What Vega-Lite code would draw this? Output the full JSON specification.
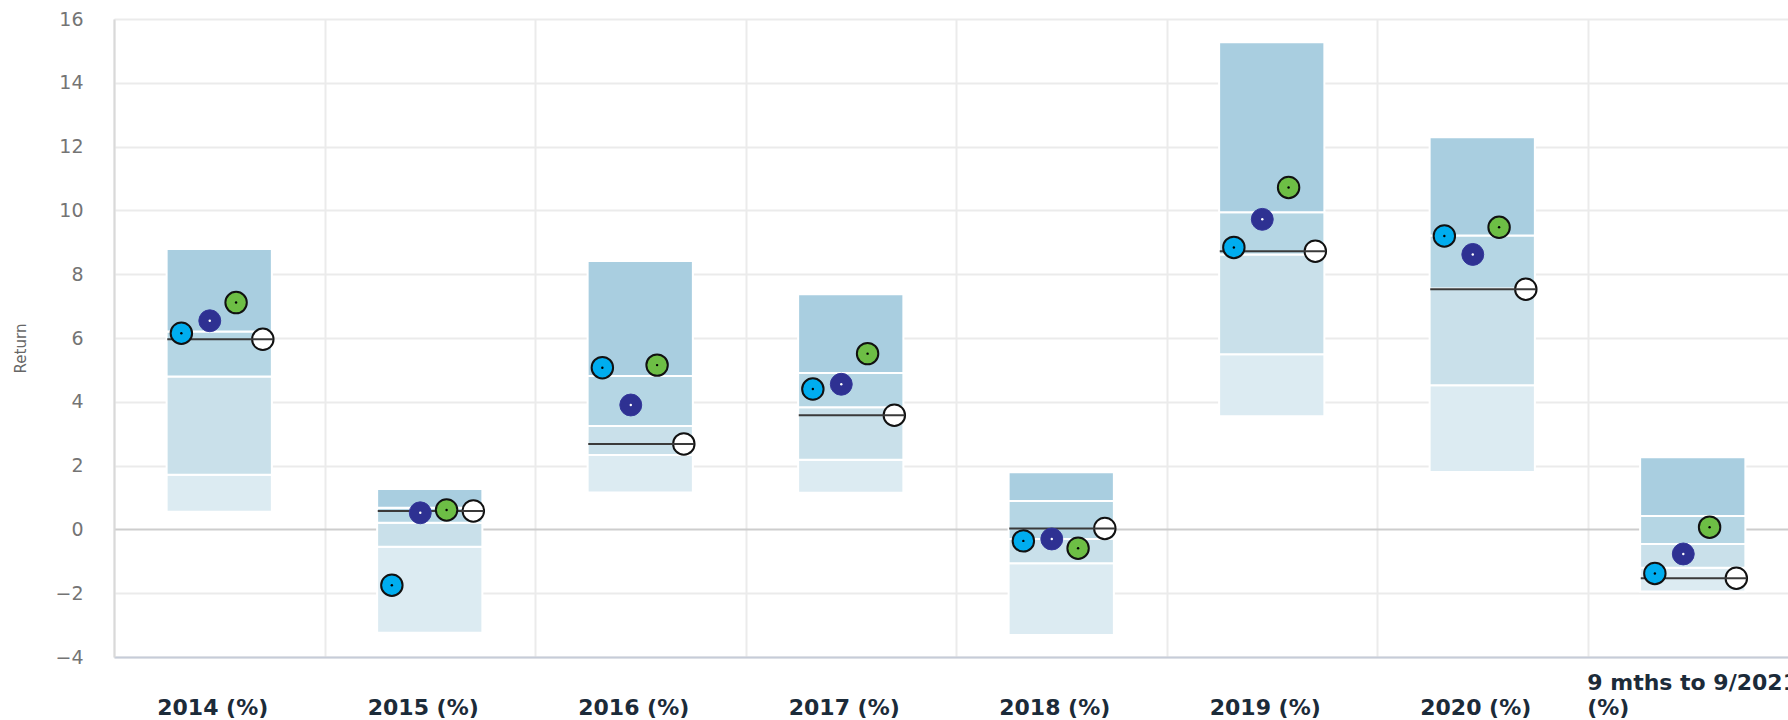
{
  "$schema": "https://vega.github.io/schema/vega-lite/v6.json",
  "width": 1684,
  "height": 638,
  "autosize": {"type": "none"},
  "padding": {"left": 114, "top": 19, "right": 0, "bottom": 63},
  "background": "white",
  "config": {"view": {"stroke": null}, "font": "DejaVu Sans"},
  "data": {
    "values": [
      {"period": "2014 (%)", "p5": 0.55, "p25": 1.71, "p50": 4.79, "p75": 6.2, "p95": 8.79, "bench": 5.96, "fundA": 6.15, "fundB": 6.54, "fundC": 7.11},
      {"period": "2015 (%)", "p5": -3.24, "p25": -0.54, "p50": 0.21, "p75": 0.68, "p95": 1.27, "bench": 0.58, "fundA": -1.75, "fundB": 0.52, "fundC": 0.61},
      {"period": "2016 (%)", "p5": 1.16, "p25": 2.33, "p50": 3.24, "p75": 4.81, "p95": 8.41, "bench": 2.68, "fundA": 5.07, "fundB": 3.9, "fundC": 5.15},
      {"period": "2017 (%)", "p5": 1.15, "p25": 2.18, "p50": 3.83, "p75": 4.9, "p95": 7.37, "bench": 3.58, "fundA": 4.4, "fundB": 4.55, "fundC": 5.51},
      {"period": "2018 (%)", "p5": -3.31, "p25": -1.06, "p50": -0.3, "p75": 0.89, "p95": 1.79, "bench": 0.03, "fundA": -0.36, "fundB": -0.3, "fundC": -0.59},
      {"period": "2019 (%)", "p5": 3.55, "p25": 5.49, "p50": 8.62, "p75": 9.94, "p95": 15.27, "bench": 8.72, "fundA": 8.84, "fundB": 9.72, "fundC": 10.72},
      {"period": "2020 (%)", "p5": 1.8, "p25": 4.52, "p50": 7.55, "p75": 9.21, "p95": 12.29, "bench": 7.53, "fundA": 9.2, "fundB": 8.62, "fundC": 9.47},
      {"period": "9 mths to 9/2021 (%)", "p5": -1.95, "p25": -1.2, "p50": -0.46, "p75": 0.42, "p95": 2.26, "bench": -1.53, "fundA": -1.38, "fundB": -0.77, "fundC": 0.07}
    ]
  },
  "layer": [
    {
      "mark": {"type": "bar", "width": {"band": 0.5}, "color": "#dcebf2", "stroke": "white", "strokeWidth": 2},
      "encoding": {
        "x": {
          "field": "period", "type": "nominal", "sort": null, "title": null,
          "scale": {"paddingInner": 0, "paddingOuter": 0},
          "axis": {
            "title": null,
            "labelAngle": 0,
            "labelFont": "DejaVu Sans",
            "labelFontWeight": "bold",
            "labelFontSize": 22,
            "labelColor": "#1c2b39",
            "labelBaseline": "bottom",
            "labelPadding": {"condition": {"test": "datum.value == '9 mths to 9/2021 (%)'", "value": 37}, "value": 62},
            "labelLineHeight": 25,
            "labelLimit": 0,
            "labelOverlap": false,
            "labelBound": false,
            "labelExpr": "datum.value == '9 mths to 9/2021 (%)' ? ['9 mths to 9/2021', '(%)'] : datum.value",
            "labelAlign": {"condition": {"test": "datum.value == '9 mths to 9/2021 (%)'", "value": "left"}, "value": "center"},
            "labelOffset": {"condition": {"test": "datum.value == '9 mths to 9/2021 (%)'", "value": -106}, "value": -7},
            "ticks": false,
            "tickSize": 0,
            "tickBand": "extent",
            "grid": true,
            "gridColor": "#ebebeb",
            "gridWidth": 2,
            "domainColor": "#c6ccd8",
            "domainWidth": 2
          }
        },
        "y": {
          "field": "p5", "type": "quantitative", "title": "Return",
          "scale": {"domain": [-4, 16], "nice": false, "zero": false},
          "axis": {
            "title": "Return",
            "titleFont": "DejaVu Sans",
            "titleFontSize": 15,
            "titleFontWeight": "normal",
            "titleColor": "#666666",
            "titlePadding": 26,
            "titleY": 329,
            "labelFont": "DejaVu Sans",
            "labelFontSize": 19,
            "labelColor": "#747474",
            "labelPadding": 31,
            "ticks": false,
            "tickSize": 0,
            "values": [-4, -2, 0, 2, 4, 6, 8, 10, 12, 14, 16],
            "grid": true,
            "gridColor": {"condition": {"test": "datum.value === 0", "value": "#cdcdcd"}, "value": "#ebebeb"},
            "gridWidth": 2,
            "domainColor": "#d9d9d9",
            "domainWidth": 2
          }
        },
        "y2": {"field": "p25"}
      }
    },
    {
      "mark": {"type": "bar", "width": {"band": 0.5}, "color": "#c9e0ea", "stroke": "white", "strokeWidth": 2},
      "encoding": {
        "x": {"field": "period", "type": "nominal", "sort": null, "title": null},
        "y": {"field": "p25", "type": "quantitative", "title": "Return"},
        "y2": {"field": "p50"}
      }
    },
    {
      "mark": {"type": "bar", "width": {"band": 0.5}, "color": "#b5d6e4", "stroke": "white", "strokeWidth": 2},
      "encoding": {
        "x": {"field": "period", "type": "nominal", "sort": null, "title": null},
        "y": {"field": "p50", "type": "quantitative", "title": "Return"},
        "y2": {"field": "p75"}
      }
    },
    {
      "mark": {"type": "bar", "width": {"band": 0.5}, "color": "#a9cee0", "stroke": "white", "strokeWidth": 2},
      "encoding": {
        "x": {"field": "period", "type": "nominal", "sort": null, "title": null},
        "y": {"field": "p75", "type": "quantitative", "title": "Return"},
        "y2": {"field": "p95"}
      }
    },
    {
      "mark": {"type": "point", "filled": true, "shape": "circle", "size": 460, "fill": "white", "stroke": "#111111", "strokeWidth": 2, "opacity": 1},
      "encoding": {
        "x": {"field": "period", "type": "nominal", "sort": null, "title": null, "bandPosition": 0.707},
        "y": {"field": "bench", "type": "quantitative", "title": "Return"}
      }
    },
    {
      "mark": {"type": "tick", "orient": "horizontal", "size": 106, "thickness": 2, "xOffset": 1, "color": "#3a3a3a", "opacity": 1},
      "encoding": {
        "x": {"field": "period", "type": "nominal", "sort": null, "title": null},
        "y": {"field": "bench", "type": "quantitative", "title": "Return"}
      }
    },
    {
      "mark": {"type": "point", "filled": true, "shape": "circle", "size": 460, "fill": "#00adef", "stroke": "#111111", "strokeWidth": 2, "opacity": 1},
      "encoding": {
        "x": {"field": "period", "type": "nominal", "sort": null, "title": null, "bandPosition": 0.32},
        "y": {"field": "fundA", "type": "quantitative", "title": "Return"}
      }
    },
    {
      "mark": {"type": "point", "filled": true, "shape": "circle", "size": 480, "fill": "#2e3192", "stroke": "#34379a", "strokeWidth": 1, "opacity": 1},
      "encoding": {
        "x": {"field": "period", "type": "nominal", "sort": null, "title": null, "bandPosition": 0.455},
        "y": {"field": "fundB", "type": "quantitative", "title": "Return"}
      }
    },
    {
      "mark": {"type": "point", "filled": true, "shape": "circle", "size": 460, "fill": "#6dbe45", "stroke": "#111111", "strokeWidth": 2, "opacity": 1},
      "encoding": {
        "x": {"field": "period", "type": "nominal", "sort": null, "title": null, "bandPosition": 0.58},
        "y": {"field": "fundC", "type": "quantitative", "title": "Return"}
      }
    },
    {
      "mark": {"type": "point", "filled": true, "shape": "circle", "size": 6, "fill": "#000000", "strokeWidth": 0, "opacity": 1},
      "encoding": {
        "x": {"field": "period", "type": "nominal", "sort": null, "title": null, "bandPosition": 0.32},
        "y": {"field": "fundA", "type": "quantitative", "title": "Return"}
      }
    },
    {
      "mark": {"type": "point", "filled": true, "shape": "circle", "size": 6, "fill": "#ffffff", "strokeWidth": 0, "opacity": 1},
      "encoding": {
        "x": {"field": "period", "type": "nominal", "sort": null, "title": null, "bandPosition": 0.455},
        "y": {"field": "fundB", "type": "quantitative", "title": "Return"}
      }
    },
    {
      "mark": {"type": "point", "filled": true, "shape": "circle", "size": 6, "fill": "#000000", "strokeWidth": 0, "opacity": 1},
      "encoding": {
        "x": {"field": "period", "type": "nominal", "sort": null, "title": null, "bandPosition": 0.58},
        "y": {"field": "fundC", "type": "quantitative", "title": "Return"}
      }
    }
  ]
}
